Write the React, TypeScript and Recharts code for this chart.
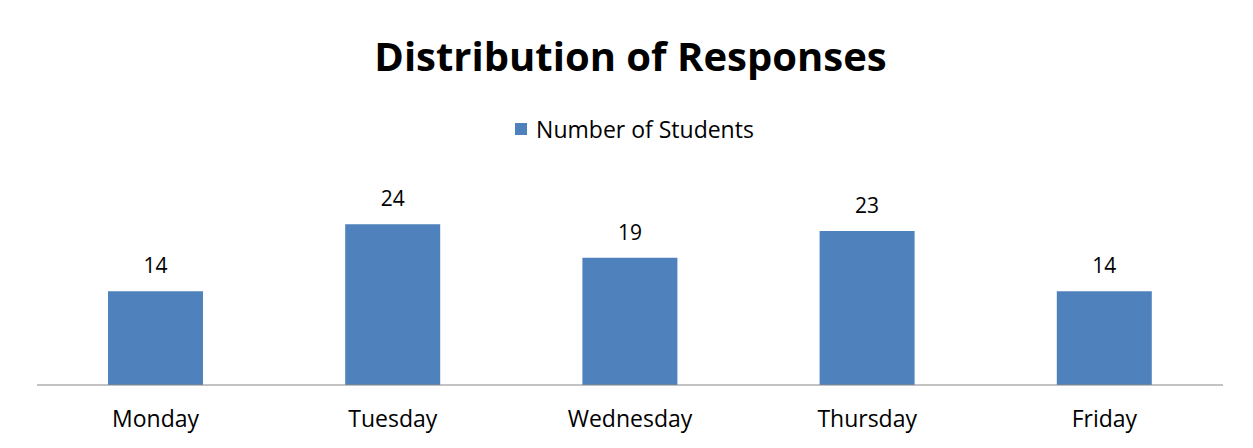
import React from 'react';
import { BarChart, Bar, XAxis, YAxis, LabelList } from 'recharts';

const days = ['Monday', 'Tuesday', 'Wednesday', 'Thursday', 'Friday'];
const students = [14, 24, 19, 23, 14];

const data = days.map((day, i) => ({ day, students: students[i] }));

const FONT = '"Open Sans", "Noto Sans", sans-serif';

// tick text sits well below the axis line, like the Excel original
const DayTick = (props: any) => {
  const { x, y, payload } = props;
  return (
    <text x={x} y={y + 34} textAnchor="middle" fontFamily={FONT} fontSize={23} fill="#000">
      {payload.value}
    </text>
  );
};

// the frame div sits at page (6,6); its content box starts at (8,8),
// which is where the body margin would put it anyway
const App: React.FC = () => {
  return (
    <div
      style={{
        position: 'relative',
        margin: -2,
        width: 1239,
        height: 460,
        borderLeft: '2px solid #868686',
        borderTop: '2px solid #868686',
        borderRight: '1px solid #9a9a9a',
        background: '#fff',
      }}
    >
      <div
        style={{
          position: 'absolute',
          left: -4,
          width: 1253,
          top: 20,
          textAlign: 'center',
          fontFamily: FONT,
          fontWeight: 700,
          fontSize: 40,
          lineHeight: '56px',
          color: '#000',
        }}
      >
        Distribution of Responses
      </div>
      <div
        style={{
          position: 'absolute',
          left: 0,
          width: 1253,
          top: 105,
          display: 'flex',
          justifyContent: 'center',
          alignItems: 'center',
          fontFamily: FONT,
          fontSize: 23,
          lineHeight: '32px',
          color: '#000',
        }}
      >
        <span style={{ display: 'inline-block', width: 12, height: 12, background: '#4F81BD', marginRight: 9 }} />
        Number of Students
      </div>
      <BarChart
        width={1237}
        height={440}
        data={data}
        margin={{ top: 176, right: 22, left: 29, bottom: 0 }}
        barCategoryGap="30%"
        style={{ position: 'absolute', left: 0, top: 0 }}
      >
        <XAxis
          dataKey="day"
          height={63}
          tickLine={false}
          axisLine={{ stroke: '#868686', strokeWidth: 1 }}
          tick={<DayTick />}
          interval={0}
        />
        <YAxis hide domain={[0, 30]} />
        <Bar dataKey="students" fill="#4F81BD" barSize={95} isAnimationActive={false}>
          <LabelList dataKey="students" position="top" offset={18} fontFamily={FONT} fontSize={21} fill="#000" />
        </Bar>
      </BarChart>
    </div>
  );
};

export default App;
